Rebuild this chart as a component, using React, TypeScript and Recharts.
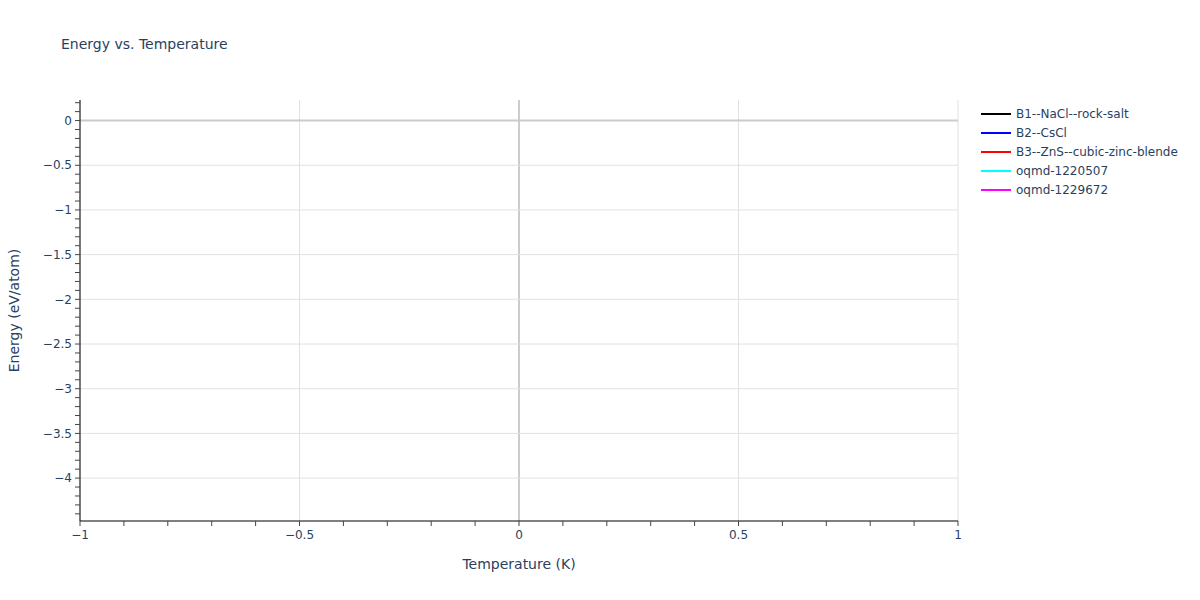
import React from "react";
import { LineChart, Line, XAxis, YAxis, ReferenceLine } from "recharts";

// Each structure has a single point at T = 0 K, so no line shows up
const temperature = [0];
const b1NaCl = [-3.52];
const b2CsCl = [-3.21];
const b3ZnS = [-4.25];
const oqmd1220507 = [0];
const oqmd1229672 = [-2.87];

const seriesNames = [
  "B1--NaCl--rock-salt",
  "B2--CsCl",
  "B3--ZnS--cubic-zinc-blende",
  "oqmd-1220507",
  "oqmd-1229672",
];
const seriesColors = ["#000000", "#0000ff", "#ff0000", "#00ffff", "#ff00ff"];
const seriesValues = [b1NaCl, b2CsCl, b3ZnS, oqmd1220507, oqmd1229672];

const xMajorTicks = [-1, -0.5, 0, 0.5, 1];
const yMajorTicks = [0, -0.5, -1, -1.5, -2, -2.5, -3, -3.5, -4];
const xDomain = [-1, 1];
const yDomain = [-4.48, 0.23];

// minor ticks every 0.1
const xTicks = Array.from({ length: 21 }, (_, i) => Math.round((-1 + i * 0.1) * 10) / 10);
const yTicks = Array.from({ length: 47 }, (_, i) => Math.round((0.2 - i * 0.1) * 10) / 10);

const data = temperature.map((t, i) => {
  const row: Record<string, number> = { t };
  seriesNames.forEach((n, k) => {
    row[n] = seriesValues[k][i];
  });
  return row;
});

const FONT = '"DejaVu Sans", Verdana, sans-serif';
const TEXT = "#2a3f5f";

const isMajor = (v: number) => Math.abs(v * 2 - Math.round(v * 2)) < 1e-6;
const fmt = (v: number) => (v < 0 ? "\u2212" + String(-v) : String(v));

function XTick(props: any) {
  const { x, y, payload } = props;
  if (!isMajor(payload.value)) return null;
  return (
    <text x={x} y={y} dy="0.71em" textAnchor="middle" fontSize={12} fontFamily={FONT} fill={TEXT}>
      {fmt(payload.value)}
    </text>
  );
}

function YTick(props: any) {
  const { x, y, payload } = props;
  if (!isMajor(payload.value)) return null;
  return (
    <text x={x} y={y} dy="0.35em" textAnchor="end" fontSize={12} fontFamily={FONT} fill={TEXT}>
      {fmt(payload.value)}
    </text>
  );
}

const noDot = () => <g />;

export default function App() {
  return (
    <div style={{ position: "absolute", left: 0, top: 0, width: 1200, height: 600, background: "#fff" }}>
      <div style={{ position: "absolute", left: 61, top: 36, fontFamily: FONT, fontSize: 14, color: TEXT }}>
        Energy vs. Temperature
      </div>
      <div
        style={{
          position: "absolute",
          left: 981,
          top: 104,
          fontFamily: FONT,
          fontSize: 12,
          color: TEXT,
          whiteSpace: "nowrap",
        }}
      >
        {seriesNames.map((n, i) => (
          <div key={n} style={{ display: "flex", alignItems: "center", height: 19 }}>
            <span style={{ width: 30, height: 2, background: seriesColors[i], marginRight: 5 }} />
            <span>{n}</span>
          </div>
        ))}
      </div>
      <LineChart
        width={1200}
        height={600}
        data={data}
        margin={{ top: 100, right: 242, bottom: 29, left: 20 }}
      >
        {xMajorTicks.map((v) => (
          <ReferenceLine key={"gx" + v} x={v} stroke={v === 0 ? "#cccccc" : "#e1e1e1"} strokeWidth={v === 0 ? 2 : 1} />
        ))}
        {yMajorTicks.map((v) => (
          <ReferenceLine key={"gy" + v} y={v} stroke={v === 0 ? "#cccccc" : "#e1e1e1"} strokeWidth={v === 0 ? 2 : 1} />
        ))}
        <XAxis
          dataKey="t"
          type="number"
          domain={xDomain}
          ticks={xTicks}
          interval={0}
          allowDataOverflow
          height={50}
          axisLine={{ stroke: "#000", strokeWidth: 1 }}
          tickLine={{ stroke: "#444" }}
          tickSize={5}
          tickMargin={4}
          tick={<XTick />}
          label={{
            value: "Temperature (K)",
            position: "insideBottom",
            offset: 2,
            fontSize: 14,
            fontFamily: FONT,
            fill: TEXT,
          }}
        />
        <YAxis
          type="number"
          domain={yDomain}
          ticks={yTicks}
          interval={0}
          allowDataOverflow
          width={60}
          axisLine={{ stroke: "#000", strokeWidth: 1 }}
          tickLine={{ stroke: "#444" }}
          tickSize={5}
          tickMargin={3}
          tick={<YTick />}
          label={{
            value: "Energy (eV/atom)",
            angle: -90,
            position: "insideLeft",
            offset: -6,
            style: { textAnchor: "middle" },
            fontSize: 14,
            fontFamily: FONT,
            fill: TEXT,
          }}
        />
        {seriesNames.map((n, i) => (
          <Line
            key={n}
            dataKey={n}
            name={n}
            stroke={seriesColors[i]}
            strokeWidth={2}
            dot={noDot}
            activeDot={false}
            isAnimationActive={false}
          />
        ))}
      </LineChart>
    </div>
  );
}
